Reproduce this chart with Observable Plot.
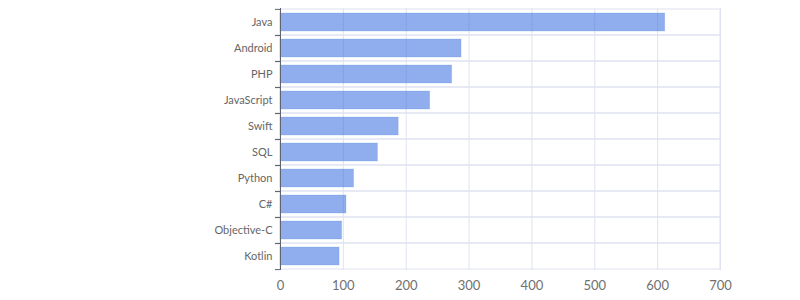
<!DOCTYPE html>
<html>
<head>
<meta charset="utf-8">
<script src="https://cdn.jsdelivr.net/npm/d3@7"></script>
<script src="https://cdn.jsdelivr.net/npm/@observablehq/plot@0.6"></script>
<style>
  html, body { margin: 0; padding: 0; background: #fff; }
  #chart { width: 800px; height: 300px; }
  svg { font-family: Lato, "Open Sans", sans-serif; }
</style>
</head>
<body>
<div id="chart"></div>
<script>
const languages = ["Java", "Android", "PHP", "JavaScript", "Swift", "SQL", "Python", "C#", "Objective-C", "Kotlin"];
const counts = [612, 288, 273, 238, 188, 155, 117, 105, 98, 94];
const xTicks = [0, 100, 200, 300, 400, 500, 600, 700];

const data = languages.map((name, i) => ({name, count: counts[i]}));

const W = 800, H = 300, mt = 8, mb = 30, ml = 280, mr = 80;
const halfStep = (H - mt - mb) / languages.length / 2;
const grid = "#dfe2f0";
const axisColor = "#5f6470";

const chart = Plot.plot({
  width: W,
  height: H,
  marginTop: mt,
  marginBottom: mb,
  marginLeft: ml,
  marginRight: mr,
  style: {fontFamily: "Lato, 'Open Sans', sans-serif", background: "#fff"},
  x: {domain: [0, 700], ticks: xTicks, label: null},
  y: {domain: languages, padding: 0, label: null},
  marks: [
    Plot.barX(languages, {y: d => d, x1: 0, x2: 700, fill: "none", stroke: grid, strokeWidth: 1, inset: 0}),
    Plot.gridX({ticks: xTicks, stroke: grid, strokeOpacity: 1, strokeWidth: 1}),
    Plot.barX(data, {y: "name", x: "count", fill: "rgb(70,120,225)", fillOpacity: 0.6, stroke: "rgb(70,120,225)", strokeOpacity: 0.2, strokeWidth: 1, insetTop: 4, insetBottom: 4}),
    Plot.ruleX([0], {stroke: axisColor, strokeWidth: 1}),
    Plot.axisX({ticks: xTicks, tickSize: 0, tickPadding: 10, fontSize: 13, fill: "#707070", label: null}),
    Plot.axisY({tickSize: 0, tickPadding: 8, fontSize: 11, fill: "#666", label: null}),
    Plot.axisY({tickSize: 5, text: null, stroke: axisColor, dy: -halfStep, label: null}),
    Plot.axisY({tickSize: 5, text: null, stroke: axisColor, dy: halfStep, label: null})
  ]
});
document.getElementById("chart").appendChild(chart);
</script>
</body>
</html>
